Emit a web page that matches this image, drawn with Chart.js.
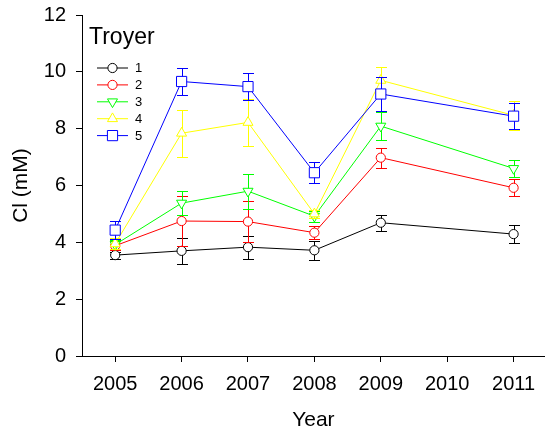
<!DOCTYPE html>
<html>
<head>
<meta charset="utf-8">
<script src="https://cdn.jsdelivr.net/npm/chart.js@4/dist/chart.umd.min.js"></script>
<style>
  html, body { margin: 0; padding: 0; background: #fff; }
  #wrap { width: 553px; height: 436px; }
</style>
</head>
<body>
<div id="wrap"><canvas id="c" width="553" height="436"></canvas></div>
<script>
// Sampling years and chloride means (mM) with standard errors per site group
const years = [2005, 2006, 2007, 2008, 2009, 2011];
const xTickYears = [2005, 2006, 2007, 2008, 2009, 2010, 2011];
const yTickValues = [0, 2, 4, 6, 8, 10, 12];
const seriesLabels = ['1', '2', '3', '4', '5'];
const plotTitle = 'Troyer';

const cl1 = [3.55, 3.70, 3.83, 3.72, 4.69, 4.29];
const err1 = [0.12, 0.45, 0.40, 0.33, 0.28, 0.32];
const cl2 = [3.88, 4.75, 4.73, 4.34, 6.98, 5.92];
const err2 = [0.15, 0.87, 0.73, 0.22, 0.35, 0.30];
const cl3 = [3.92, 5.38, 5.80, 4.92, 8.09, 6.60];
const err3 = [0.15, 0.42, 0.62, 0.20, 0.48, 0.30];
const cl4 = [3.95, 7.84, 8.22, 5.00, 9.70, 8.47];
const err4 = [0.20, 0.83, 0.84, 0.15, 0.48, 0.50];
const cl5 = [4.43, 9.66, 9.48, 6.45, 9.22, 8.44];
const err5 = [0.33, 0.48, 0.47, 0.37, 0.60, 0.45];

const FONT = "Arial, 'Liberation Sans', sans-serif";

const styles = [
  { color: '#000000', point: 'circle',   radius: 4.6, rotation: 0 },
  { color: '#ff0000', point: 'circle',   radius: 4.6, rotation: 0 },
  { color: '#00ff00', point: 'triangle', radius: 5.8, rotation: 180 },
  { color: '#ffff00', point: 'triangle', radius: 5.8, rotation: 0 },
  { color: '#0000ff', point: 'rect',     radius: 7.2, rotation: 0 }
];
const means = [cl1, cl2, cl3, cl4, cl5];
const errs = [err1, err2, err3, err4, err5];

const datasets = means.map((vals, k) => ({
  label: seriesLabels[k],
  data: years.map((yr, i) => ({ x: yr, y: vals[i] })),
  errors: errs[k],
  borderColor: styles[k].color,
  backgroundColor: '#ffffff',
  borderWidth: 1,
  pointStyle: styles[k].point,
  pointRotation: styles[k].rotation,
  pointRadius: styles[k].radius,
  pointBorderColor: styles[k].color,
  pointBackgroundColor: '#ffffff',
  pointBorderWidth: 1,
  tension: 0,
  order: means.length - 1 - k
}));

// Vertical error bars with caps, drawn just beneath each series
const errorBars = {
  id: 'errorBars',
  beforeDatasetDraw(chart, args) {
    const ds = chart.data.datasets[args.index];
    const xs = chart.scales.x, ys = chart.scales.y;
    const ctx = chart.ctx;
    const cap = 5.5;
    ctx.save();
    ctx.strokeStyle = ds.borderColor;
    ctx.lineWidth = 1;
    ds.data.forEach((p, i) => {
      const e = ds.errors[i];
      const x = Math.round(xs.getPixelForValue(p.x)) + 0.5;
      const yt = Math.round(ys.getPixelForValue(p.y + e)) + 0.5;
      const yb = Math.round(ys.getPixelForValue(p.y - e)) + 0.5;
      ctx.beginPath();
      ctx.moveTo(x, yt); ctx.lineTo(x, yb);
      ctx.moveTo(x - cap, yt); ctx.lineTo(x + cap, yt);
      ctx.moveTo(x - cap, yb); ctx.lineTo(x + cap, yb);
      ctx.stroke();
    });
    ctx.restore();
  }
};

// Plot title and line/marker key in the upper left of the plot
const keyBox = {
  id: 'keyBox',
  afterDraw(chart) {
    const ctx = chart.ctx;
    const left = chart.chartArea.left;
    ctx.save();
    ctx.fillStyle = '#000';
    ctx.font = '23px ' + FONT;
    ctx.textBaseline = 'alphabetic';
    ctx.textAlign = 'left';
    ctx.fillText(plotTitle, left + 7, 44);
    ctx.font = '13px ' + FONT;
    ctx.textBaseline = 'middle';
    chart.data.datasets.forEach((ds, k) => {
      const y = 67.5 + k * 16.9;
      ctx.strokeStyle = ds.borderColor;
      ctx.lineWidth = 1;
      ctx.beginPath();
      ctx.moveTo(left + 15, y + 0.5);
      ctx.lineTo(left + 46, y + 0.5);
      ctx.stroke();
      ctx.fillStyle = '#ffffff';
      Chart.helpers.drawPoint(ctx, {
        pointStyle: ds.pointStyle,
        rotation: ds.pointRotation,
        radius: ds.pointRadius,
        borderWidth: 1
      }, left + 30.5, y + 0.5);
      ctx.fillStyle = '#000';
      ctx.fillText(ds.label, left + 53, y + 1);
    });
    ctx.restore();
  }
};

new Chart(document.getElementById('c'), {
  type: 'line',
  data: { datasets },
  plugins: [errorBars, keyBox],
  options: {
    responsive: false,
    animation: false,
    events: [],
    layout: { padding: { top: 15, right: 0, bottom: 0, left: 0 } },
    plugins: { legend: { display: false }, tooltip: { enabled: false }, title: { display: false } },
    scales: {
      x: {
        type: 'linear',
        min: 2004.5,
        max: 2011.47,
        afterBuildTicks(scale) { scale.ticks = xTickYears.map(v => ({ value: v })); },
        afterFit(scale) { scale.height = 80; scale.paddingLeft = 0; scale.paddingRight = 0; },
        grid: { drawOnChartArea: false, drawTicks: true, tickLength: 6, color: '#000' },
        border: { display: true, color: '#000', width: 1 },
        ticks: { color: '#000', font: { family: FONT, size: 20 }, padding: 10, maxRotation: 0, autoSkip: false,
                 callback: v => String(v) },
        title: { display: true, text: 'Year', color: '#000', font: { family: FONT, size: 21 }, padding: { top: 0, bottom: 3 } }
      },
      y: {
        type: 'linear',
        min: 0,
        max: 12,
        afterBuildTicks(scale) { scale.ticks = yTickValues.map(v => ({ value: v })); },
        afterFit(scale) { scale.width = 82; scale.paddingTop = 0; scale.paddingBottom = 0; },
        grid: { drawOnChartArea: false, drawTicks: true, tickLength: 6, color: '#000' },
        border: { display: true, color: '#000', width: 1 },
        ticks: { color: '#000', font: { family: FONT, size: 20 }, padding: 10, callback: v => String(v) },
        title: { display: true, text: 'Cl (mM)', color: '#000', font: { family: FONT, size: 21 }, padding: { top: 9, bottom: 0 } }
      }
    }
  }
});
</script>
</body>
</html>
